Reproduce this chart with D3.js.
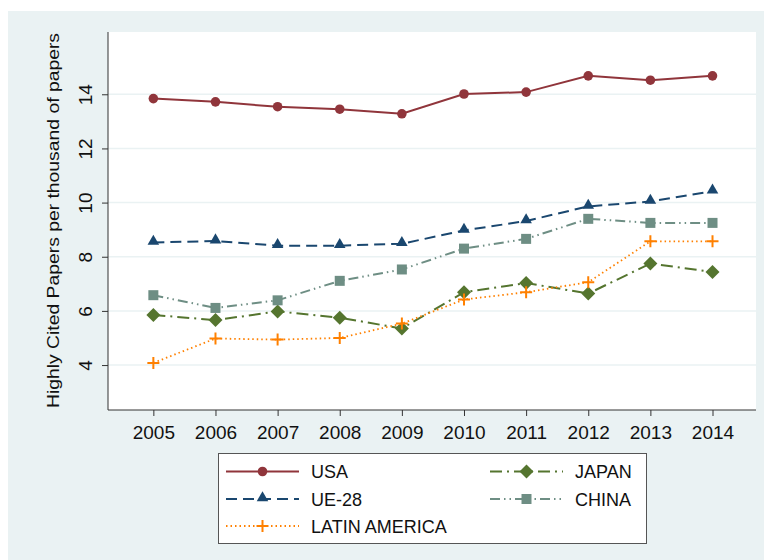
<!DOCTYPE html>
<html>
<head>
<meta charset="utf-8">
<script src="https://cdn.jsdelivr.net/npm/d3@7"></script>
<style>
  body { margin: 0; background: #fff; }
  svg { display: block; font-family: Arial, "Liberation Sans", sans-serif; }
</style>
</head>
<body>
<svg id="chart" width="764" height="560"></svg>
<script>
// values
var years = [2005, 2006, 2007, 2008, 2009, 2010, 2011, 2012, 2013, 2014];
var usa    = [13.84, 13.72, 13.54, 13.45, 13.28, 14.01, 14.08, 14.68, 14.52, 14.68];
var ue28   = [8.53, 8.58, 8.41, 8.41, 8.48, 8.97, 9.32, 9.86, 10.04, 10.42];
var japan  = [5.85, 5.66, 5.98, 5.75, 5.35, 6.69, 7.03, 6.64, 7.75, 7.44];
var china  = [6.58, 6.11, 6.39, 7.11, 7.53, 8.30, 8.66, 9.40, 9.25, 9.25];
var latam  = [4.08, 4.98, 4.94, 5.00, 5.53, 6.42, 6.69, 7.06, 8.57, 8.57];
var yTicks = [4, 6, 8, 10, 12, 14];
var yTitle = "Highly Cited Papers per thousand of papers";

var series = [
  {name: "USA", values: usa, color: "#90353b", dash: null, marker: "circle", lx: 226, row: 0},
  {name: "UE-28", values: ue28, color: "#1a476f", dash: "11,6", marker: "triangle", lx: 226, row: 1},
  {name: "LATIN AMERICA", values: latam, color: "#ff8000", dash: "1.5,3", marker: "plus", lx: 226, row: 2},
  {name: "JAPAN", values: japan, color: "#55752f", dash: "12,5,2,5", marker: "diamond", lx: 490, row: 0},
  {name: "CHINA", values: china, color: "#6e8e84", dash: "10,4,1.5,4,1.5,4", marker: "square", lx: 490, row: 1}
];

var svg = d3.select("#chart");

// graph region background
svg.append("rect")
  .attr("x", 8).attr("y", 11)
  .attr("width", 756).attr("height", 549)
  .attr("fill", "#eaf2f3");

var plotL = 108, plotR = 756, plotT = 32, plotB = 410;

svg.append("rect")
  .attr("x", plotL).attr("y", plotT)
  .attr("width", plotR - plotL).attr("height", plotB - plotT)
  .attr("fill", "#fff");

var x = d3.scaleLinear().domain([2004.27, 2014.7]).range([plotL, plotR]);
var y = d3.scaleLinear().domain([2.34, 16.3]).range([plotB, plotT]);

// grid
svg.append("g").selectAll("line")
  .data(yTicks).enter().append("line")
  .attr("x1", plotL).attr("x2", plotR)
  .attr("y1", function(d) { return y(d); })
  .attr("y2", function(d) { return y(d); })
  .attr("stroke", "#eaf2f3")
  .attr("stroke-width", 1.5);

// y axis
var yAxis = svg.append("g")
  .attr("transform", "translate(" + plotL + ",0)")
  .call(d3.axisLeft(y).tickValues(yTicks).tickSize(6).tickSizeOuter(0).tickFormat(d3.format("d")));
yAxis.select(".domain").attr("stroke", "#333").attr("d", "M0," + plotT + "V" + plotB);
yAxis.selectAll(".tick line").attr("stroke", "#333");
yAxis.selectAll(".tick text")
  .attr("x", null).attr("dy", null)
  .attr("transform", "translate(-16,0) rotate(-90)")
  .attr("text-anchor", "middle")
  .attr("font-size", 19)
  .attr("fill", "#111");

// x axis
var xAxis = svg.append("g")
  .attr("transform", "translate(0," + plotB + ")")
  .call(d3.axisBottom(x).tickValues(years).tickSize(6).tickSizeOuter(0).tickFormat(d3.format("d")));
xAxis.select(".domain").attr("stroke", "#333").attr("d", "M" + plotL + ",0H" + plotR);
xAxis.selectAll(".tick line").attr("stroke", "#333");
xAxis.selectAll(".tick text")
  .attr("y", 29).attr("dy", null)
  .attr("font-size", 19)
  .attr("fill", "#111");

// y title
svg.append("text")
  .attr("transform", "translate(58.5,220.5) rotate(-90)")
  .attr("text-anchor", "middle")
  .attr("font-size", 17)
  .attr("textLength", 375)
  .attr("lengthAdjust", "spacingAndGlyphs")
  .attr("fill", "#111")
  .text(yTitle);

var triangle = d3.symbol().type(d3.symbolTriangle).size(58);
var square = d3.symbol().type(d3.symbolSquare).size(100);
var diamond = d3.symbol().type(d3.symbolSquare).size(98);
var circle = d3.symbol().type(d3.symbolCircle).size(72);

drawMarker = function(g, kind, color, cx, cy) {
  if (kind == "plus") {
    g.append("path")
      .attr("d", "M" + (cx - 6) + "," + cy + "H" + (cx + 6) + "M" + cx + "," + (cy - 6) + "V" + (cy + 6))
      .attr("stroke", color).attr("stroke-width", 2).attr("fill", "none");
    return;
  }
  var p = g.append("path").attr("fill", color);
  if (kind == "circle") p.attr("d", circle()).attr("transform", "translate(" + cx + "," + cy + ")");
  if (kind == "square") p.attr("d", square()).attr("transform", "translate(" + cx + "," + cy + ")");
  if (kind == "triangle") p.attr("d", triangle()).attr("transform", "translate(" + cx + "," + (cy - 1) + ")");
  if (kind == "diamond") p.attr("d", diamond()).attr("transform", "translate(" + cx + "," + cy + ") rotate(45)");
}

var line = d3.line()
  .x(function(d, i) { return x(years[i]); })
  .y(function(d) { return y(d); });

// draw order as in the original: USA, UE-28, JAPAN, CHINA, LATIN AMERICA
var order = [0, 1, 3, 4, 2];
order.forEach(function(k) {
  var s = series[k];
  var g = svg.append("g");
  g.append("path")
    .attr("d", line(s.values))
    .attr("fill", "none")
    .attr("stroke", s.color)
    .attr("stroke-width", s.marker == "plus" ? 1.8 : 2)
    .attr("stroke-dasharray", s.dash);
  s.values.forEach(function(v, i) {
    drawMarker(g, s.marker, s.color, x(years[i]), y(v));
  });
});

// legend
svg.append("rect")
  .attr("x", 218.5).attr("y", 453.5)
  .attr("width", 428).attr("height", 90)
  .attr("fill", "#fff")
  .attr("stroke", "#555")
  .attr("stroke-width", 1);

var rowY = [471.5, 499, 526];
series.forEach(function(s) {
  var g = svg.append("g");
  var cy = rowY[s.row];
  g.append("line")
    .attr("x1", s.lx).attr("x2", s.lx + 73)
    .attr("y1", cy).attr("y2", cy)
    .attr("stroke", s.color)
    .attr("stroke-width", s.marker == "plus" ? 1.8 : 2)
    .attr("stroke-dasharray", s.dash);
  drawMarker(g, s.marker, s.color, s.lx + 36.5, cy);
  g.append("text")
    .attr("x", s.lx + 85).attr("y", cy + 6.5)
    .attr("font-size", 18)
    .attr("fill", "#111")
    .text(s.name);
});
</script>
</body>
</html>
